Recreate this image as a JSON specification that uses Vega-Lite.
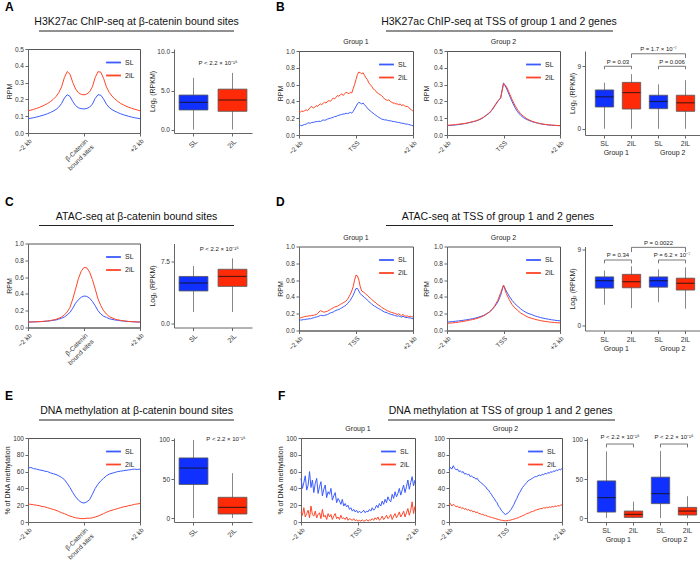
{
"$schema": "https://vega.github.io/schema/vega-lite/v6.json",
"padding": {"left": 2, "top": 1, "right": 0, "bottom": 0},
"config": {
 "font": "Liberation Sans",
 "view": {"stroke": null},
 "axis": {"grid": false, "labelFontSize": 6.5, "titleFontSize": 7, "titleFontWeight": "normal", "labelColor": "#333", "titleColor": "#222", "domainColor": "#666", "tickColor": "#666", "tickSize": 3, "labelPadding": 1.5, "titlePadding": 2, "labelFlush": false, "labelOverlap": false},
 "legend": {"orient": "top-right", "labelFontSize": 7, "symbolType": "stroke", "symbolStrokeWidth": 1.8, "symbolSize": 220, "rowPadding": 0, "padding": 0, "offset": 5, "labelColor": "#222", "labelOffset": 3},
 "title": {"fontSize": 7, "fontWeight": "normal", "color": "#222", "offset": 3},
 "text": {"color": "#222"}
},
"datasets": {
 "lA": [{"x":-2,"SL":0.085,"2iL":0.132},{"x":-1.9,"SL":0.088,"2iL":0.136},{"x":-1.8,"SL":0.091,"2iL":0.141},{"x":-1.7,"SL":0.095,"2iL":0.146},{"x":-1.6,"SL":0.099,"2iL":0.152},{"x":-1.5,"SL":0.104,"2iL":0.159},{"x":-1.4,"SL":0.109,"2iL":0.167},{"x":-1.3,"SL":0.115,"2iL":0.176},{"x":-1.2,"SL":0.122,"2iL":0.187},{"x":-1.1,"SL":0.13,"2iL":0.2},{"x":-1,"SL":0.14,"2iL":0.217},{"x":-0.9,"SL":0.154,"2iL":0.24},{"x":-0.8,"SL":0.176,"2iL":0.275},{"x":-0.7,"SL":0.208,"2iL":0.33},{"x":-0.6,"SL":0.228,"2iL":0.366},{"x":-0.5,"SL":0.218,"2iL":0.35},{"x":-0.4,"SL":0.187,"2iL":0.3},{"x":-0.3,"SL":0.163,"2iL":0.262},{"x":-0.2,"SL":0.15,"2iL":0.24},{"x":-0.1,"SL":0.145,"2iL":0.23},{"x":0,"SL":0.143,"2iL":0.227},{"x":0.1,"SL":0.146,"2iL":0.232},{"x":0.2,"SL":0.154,"2iL":0.245},{"x":0.3,"SL":0.172,"2iL":0.275},{"x":0.4,"SL":0.206,"2iL":0.33},{"x":0.5,"SL":0.228,"2iL":0.365},{"x":0.6,"SL":0.225,"2iL":0.362},{"x":0.7,"SL":0.202,"2iL":0.325},{"x":0.8,"SL":0.172,"2iL":0.275},{"x":0.9,"SL":0.152,"2iL":0.242},{"x":1,"SL":0.139,"2iL":0.22},{"x":1.1,"SL":0.13,"2iL":0.203},{"x":1.2,"SL":0.122,"2iL":0.189},{"x":1.3,"SL":0.115,"2iL":0.177},{"x":1.4,"SL":0.109,"2iL":0.168},{"x":1.5,"SL":0.104,"2iL":0.16},{"x":1.6,"SL":0.099,"2iL":0.153},{"x":1.7,"SL":0.095,"2iL":0.147},{"x":1.8,"SL":0.091,"2iL":0.142},{"x":1.9,"SL":0.088,"2iL":0.137},{"x":2,"SL":0.085,"2iL":0.132}],
 "lB1": [{"x":-2,"SL":0.11,"2iL":0.28},{"x":-1.95,"SL":0.115,"2iL":0.275},{"x":-1.9,"SL":0.11,"2iL":0.285},{"x":-1.85,"SL":0.12,"2iL":0.28},{"x":-1.8,"SL":0.125,"2iL":0.29},{"x":-1.75,"SL":0.13,"2iL":0.3},{"x":-1.7,"SL":0.14,"2iL":0.29},{"x":-1.65,"SL":0.145,"2iL":0.31},{"x":-1.6,"SL":0.14,"2iL":0.33},{"x":-1.55,"SL":0.15,"2iL":0.34},{"x":-1.5,"SL":0.15,"2iL":0.32},{"x":-1.45,"SL":0.155,"2iL":0.33},{"x":-1.4,"SL":0.16,"2iL":0.35},{"x":-1.35,"SL":0.16,"2iL":0.34},{"x":-1.3,"SL":0.165,"2iL":0.36},{"x":-1.25,"SL":0.16,"2iL":0.37},{"x":-1.2,"SL":0.17,"2iL":0.36},{"x":-1.15,"SL":0.18,"2iL":0.38},{"x":-1.1,"SL":0.175,"2iL":0.39},{"x":-1.05,"SL":0.18,"2iL":0.38},{"x":-1,"SL":0.19,"2iL":0.4},{"x":-0.95,"SL":0.195,"2iL":0.41},{"x":-0.9,"SL":0.2,"2iL":0.4},{"x":-0.85,"SL":0.205,"2iL":0.42},{"x":-0.8,"SL":0.21,"2iL":0.44},{"x":-0.75,"SL":0.22,"2iL":0.43},{"x":-0.7,"SL":0.22,"2iL":0.45},{"x":-0.65,"SL":0.23,"2iL":0.47},{"x":-0.6,"SL":0.235,"2iL":0.46},{"x":-0.55,"SL":0.24,"2iL":0.48},{"x":-0.5,"SL":0.245,"2iL":0.49},{"x":-0.45,"SL":0.25,"2iL":0.47},{"x":-0.4,"SL":0.25,"2iL":0.49},{"x":-0.35,"SL":0.26,"2iL":0.51},{"x":-0.3,"SL":0.255,"2iL":0.5},{"x":-0.25,"SL":0.26,"2iL":0.49},{"x":-0.2,"SL":0.27,"2iL":0.51},{"x":-0.15,"SL":0.26,"2iL":0.5},{"x":-0.1,"SL":0.28,"2iL":0.55},{"x":-0.05,"SL":0.31,"2iL":0.6},{"x":0,"SL":0.34,"2iL":0.66},{"x":0.05,"SL":0.37,"2iL":0.72},{"x":0.1,"SL":0.39,"2iL":0.75},{"x":0.15,"SL":0.38,"2iL":0.74},{"x":0.2,"SL":0.37,"2iL":0.73},{"x":0.25,"SL":0.38,"2iL":0.74},{"x":0.3,"SL":0.36,"2iL":0.71},{"x":0.35,"SL":0.34,"2iL":0.68},{"x":0.4,"SL":0.32,"2iL":0.66},{"x":0.45,"SL":0.3,"2iL":0.62},{"x":0.5,"SL":0.29,"2iL":0.6},{"x":0.55,"SL":0.27,"2iL":0.58},{"x":0.6,"SL":0.26,"2iL":0.55},{"x":0.65,"SL":0.245,"2iL":0.54},{"x":0.7,"SL":0.235,"2iL":0.52},{"x":0.75,"SL":0.22,"2iL":0.5},{"x":0.8,"SL":0.21,"2iL":0.49},{"x":0.85,"SL":0.2,"2iL":0.48},{"x":0.9,"SL":0.19,"2iL":0.47},{"x":0.95,"SL":0.185,"2iL":0.45},{"x":1,"SL":0.18,"2iL":0.43},{"x":1.05,"SL":0.18,"2iL":0.42},{"x":1.1,"SL":0.175,"2iL":0.41},{"x":1.15,"SL":0.17,"2iL":0.42},{"x":1.2,"SL":0.17,"2iL":0.4},{"x":1.25,"SL":0.165,"2iL":0.39},{"x":1.3,"SL":0.16,"2iL":0.38},{"x":1.35,"SL":0.16,"2iL":0.38},{"x":1.4,"SL":0.155,"2iL":0.37},{"x":1.45,"SL":0.15,"2iL":0.37},{"x":1.5,"SL":0.15,"2iL":0.36},{"x":1.55,"SL":0.145,"2iL":0.37},{"x":1.6,"SL":0.14,"2iL":0.35},{"x":1.65,"SL":0.14,"2iL":0.36},{"x":1.7,"SL":0.135,"2iL":0.35},{"x":1.75,"SL":0.13,"2iL":0.34},{"x":1.8,"SL":0.13,"2iL":0.34},{"x":1.85,"SL":0.125,"2iL":0.33},{"x":1.9,"SL":0.12,"2iL":0.31},{"x":1.95,"SL":0.115,"2iL":0.3},{"x":2,"SL":0.11,"2iL":0.28}],
 "lB2": [{"x":-2,"SL":0.055,"2iL":0.058},{"x":-1.9,"SL":0.057,"2iL":0.059},{"x":-1.8,"SL":0.058,"2iL":0.06},{"x":-1.7,"SL":0.06,"2iL":0.062},{"x":-1.6,"SL":0.062,"2iL":0.064},{"x":-1.5,"SL":0.064,"2iL":0.066},{"x":-1.4,"SL":0.067,"2iL":0.068},{"x":-1.3,"SL":0.07,"2iL":0.071},{"x":-1.2,"SL":0.074,"2iL":0.075},{"x":-1.1,"SL":0.078,"2iL":0.079},{"x":-1,"SL":0.082,"2iL":0.083},{"x":-0.9,"SL":0.088,"2iL":0.089},{"x":-0.8,"SL":0.095,"2iL":0.097},{"x":-0.7,"SL":0.105,"2iL":0.107},{"x":-0.6,"SL":0.118,"2iL":0.12},{"x":-0.5,"SL":0.13,"2iL":0.133},{"x":-0.4,"SL":0.15,"2iL":0.152},{"x":-0.3,"SL":0.175,"2iL":0.178},{"x":-0.2,"SL":0.2,"2iL":0.203},{"x":-0.1,"SL":0.222,"2iL":0.22},{"x":0,"SL":0.31,"2iL":0.305},{"x":0.1,"SL":0.28,"2iL":0.29},{"x":0.2,"SL":0.24,"2iL":0.252},{"x":0.3,"SL":0.2,"2iL":0.212},{"x":0.4,"SL":0.165,"2iL":0.178},{"x":0.5,"SL":0.138,"2iL":0.15},{"x":0.6,"SL":0.118,"2iL":0.128},{"x":0.7,"SL":0.104,"2iL":0.112},{"x":0.8,"SL":0.094,"2iL":0.1},{"x":0.9,"SL":0.087,"2iL":0.09},{"x":1,"SL":0.08,"2iL":0.083},{"x":1.1,"SL":0.075,"2iL":0.077},{"x":1.2,"SL":0.071,"2iL":0.072},{"x":1.3,"SL":0.067,"2iL":0.068},{"x":1.4,"SL":0.064,"2iL":0.065},{"x":1.5,"SL":0.062,"2iL":0.062},{"x":1.6,"SL":0.06,"2iL":0.06},{"x":1.7,"SL":0.058,"2iL":0.059},{"x":1.8,"SL":0.057,"2iL":0.058},{"x":1.9,"SL":0.056,"2iL":0.057},{"x":2,"SL":0.055,"2iL":0.056}],
 "lC": [{"x":-2,"SL":0.065,"2iL":0.065},{"x":-1.9,"SL":0.066,"2iL":0.066},{"x":-1.8,"SL":0.067,"2iL":0.067},{"x":-1.7,"SL":0.068,"2iL":0.068},{"x":-1.6,"SL":0.069,"2iL":0.07},{"x":-1.5,"SL":0.071,"2iL":0.072},{"x":-1.4,"SL":0.073,"2iL":0.075},{"x":-1.3,"SL":0.076,"2iL":0.078},{"x":-1.2,"SL":0.08,"2iL":0.083},{"x":-1.1,"SL":0.085,"2iL":0.09},{"x":-1,"SL":0.09,"2iL":0.098},{"x":-0.9,"SL":0.1,"2iL":0.11},{"x":-0.8,"SL":0.11,"2iL":0.125},{"x":-0.7,"SL":0.125,"2iL":0.15},{"x":-0.6,"SL":0.15,"2iL":0.185},{"x":-0.5,"SL":0.18,"2iL":0.24},{"x":-0.4,"SL":0.23,"2iL":0.34},{"x":-0.3,"SL":0.29,"2iL":0.46},{"x":-0.2,"SL":0.33,"2iL":0.58},{"x":-0.1,"SL":0.36,"2iL":0.67},{"x":0,"SL":0.375,"2iL":0.715},{"x":0.1,"SL":0.37,"2iL":0.71},{"x":0.2,"SL":0.35,"2iL":0.66},{"x":0.3,"SL":0.31,"2iL":0.57},{"x":0.4,"SL":0.26,"2iL":0.46},{"x":0.5,"SL":0.2,"2iL":0.34},{"x":0.6,"SL":0.16,"2iL":0.26},{"x":0.7,"SL":0.135,"2iL":0.2},{"x":0.8,"SL":0.12,"2iL":0.16},{"x":0.9,"SL":0.105,"2iL":0.13},{"x":1,"SL":0.097,"2iL":0.115},{"x":1.1,"SL":0.09,"2iL":0.1},{"x":1.2,"SL":0.085,"2iL":0.092},{"x":1.3,"SL":0.08,"2iL":0.085},{"x":1.4,"SL":0.077,"2iL":0.08},{"x":1.5,"SL":0.074,"2iL":0.076},{"x":1.6,"SL":0.071,"2iL":0.072},{"x":1.7,"SL":0.069,"2iL":0.07},{"x":1.8,"SL":0.067,"2iL":0.068},{"x":1.9,"SL":0.066,"2iL":0.066},{"x":2,"SL":0.065,"2iL":0.065}],
 "lD1": [{"x":-2,"SL":0.12,"2iL":0.14},{"x":-1.95,"SL":0.125,"2iL":0.15},{"x":-1.9,"SL":0.125,"2iL":0.155},{"x":-1.85,"SL":0.13,"2iL":0.16},{"x":-1.8,"SL":0.13,"2iL":0.165},{"x":-1.75,"SL":0.135,"2iL":0.17},{"x":-1.7,"SL":0.135,"2iL":0.17},{"x":-1.65,"SL":0.14,"2iL":0.175},{"x":-1.6,"SL":0.14,"2iL":0.175},{"x":-1.55,"SL":0.145,"2iL":0.18},{"x":-1.5,"SL":0.15,"2iL":0.18},{"x":-1.45,"SL":0.155,"2iL":0.185},{"x":-1.4,"SL":0.16,"2iL":0.19},{"x":-1.35,"SL":0.165,"2iL":0.2},{"x":-1.3,"SL":0.17,"2iL":0.22},{"x":-1.25,"SL":0.18,"2iL":0.235},{"x":-1.2,"SL":0.18,"2iL":0.23},{"x":-1.15,"SL":0.175,"2iL":0.22},{"x":-1.1,"SL":0.18,"2iL":0.22},{"x":-1.05,"SL":0.185,"2iL":0.225},{"x":-1,"SL":0.19,"2iL":0.23},{"x":-0.95,"SL":0.2,"2iL":0.24},{"x":-0.9,"SL":0.21,"2iL":0.25},{"x":-0.85,"SL":0.215,"2iL":0.26},{"x":-0.8,"SL":0.22,"2iL":0.27},{"x":-0.75,"SL":0.23,"2iL":0.28},{"x":-0.7,"SL":0.24,"2iL":0.285},{"x":-0.65,"SL":0.245,"2iL":0.29},{"x":-0.6,"SL":0.25,"2iL":0.3},{"x":-0.55,"SL":0.26,"2iL":0.31},{"x":-0.5,"SL":0.27,"2iL":0.32},{"x":-0.45,"SL":0.28,"2iL":0.33},{"x":-0.4,"SL":0.29,"2iL":0.34},{"x":-0.35,"SL":0.3,"2iL":0.35},{"x":-0.3,"SL":0.32,"2iL":0.37},{"x":-0.25,"SL":0.34,"2iL":0.4},{"x":-0.2,"SL":0.36,"2iL":0.43},{"x":-0.15,"SL":0.39,"2iL":0.47},{"x":-0.1,"SL":0.42,"2iL":0.52},{"x":-0.05,"SL":0.46,"2iL":0.6},{"x":0,"SL":0.5,"2iL":0.66},{"x":0.05,"SL":0.5,"2iL":0.65},{"x":0.1,"SL":0.47,"2iL":0.6},{"x":0.15,"SL":0.44,"2iL":0.52},{"x":0.2,"SL":0.42,"2iL":0.47},{"x":0.25,"SL":0.41,"2iL":0.46},{"x":0.3,"SL":0.39,"2iL":0.45},{"x":0.35,"SL":0.38,"2iL":0.43},{"x":0.4,"SL":0.36,"2iL":0.42},{"x":0.45,"SL":0.345,"2iL":0.4},{"x":0.5,"SL":0.33,"2iL":0.385},{"x":0.55,"SL":0.315,"2iL":0.37},{"x":0.6,"SL":0.3,"2iL":0.355},{"x":0.65,"SL":0.29,"2iL":0.34},{"x":0.7,"SL":0.28,"2iL":0.33},{"x":0.75,"SL":0.27,"2iL":0.31},{"x":0.8,"SL":0.26,"2iL":0.3},{"x":0.85,"SL":0.25,"2iL":0.29},{"x":0.9,"SL":0.24,"2iL":0.275},{"x":0.95,"SL":0.23,"2iL":0.265},{"x":1,"SL":0.22,"2iL":0.255},{"x":1.05,"SL":0.215,"2iL":0.245},{"x":1.1,"SL":0.21,"2iL":0.235},{"x":1.15,"SL":0.2,"2iL":0.23},{"x":1.2,"SL":0.195,"2iL":0.22},{"x":1.25,"SL":0.19,"2iL":0.215},{"x":1.3,"SL":0.185,"2iL":0.21},{"x":1.35,"SL":0.18,"2iL":0.205},{"x":1.4,"SL":0.175,"2iL":0.2},{"x":1.45,"SL":0.17,"2iL":0.19},{"x":1.5,"SL":0.175,"2iL":0.2},{"x":1.55,"SL":0.165,"2iL":0.185},{"x":1.6,"SL":0.16,"2iL":0.18},{"x":1.65,"SL":0.17,"2iL":0.19},{"x":1.7,"SL":0.16,"2iL":0.175},{"x":1.75,"SL":0.155,"2iL":0.17},{"x":1.8,"SL":0.155,"2iL":0.175},{"x":1.85,"SL":0.15,"2iL":0.165},{"x":1.9,"SL":0.15,"2iL":0.17},{"x":1.95,"SL":0.145,"2iL":0.165},{"x":2,"SL":0.14,"2iL":0.16}],
 "lD2": [{"x":-2,"SL":0.1,"2iL":0.085},{"x":-1.9,"SL":0.103,"2iL":0.088},{"x":-1.8,"SL":0.106,"2iL":0.091},{"x":-1.7,"SL":0.11,"2iL":0.095},{"x":-1.6,"SL":0.114,"2iL":0.099},{"x":-1.5,"SL":0.118,"2iL":0.104},{"x":-1.4,"SL":0.123,"2iL":0.11},{"x":-1.3,"SL":0.128,"2iL":0.116},{"x":-1.2,"SL":0.134,"2iL":0.123},{"x":-1.1,"SL":0.14,"2iL":0.13},{"x":-1,"SL":0.148,"2iL":0.138},{"x":-0.9,"SL":0.157,"2iL":0.148},{"x":-0.8,"SL":0.168,"2iL":0.16},{"x":-0.7,"SL":0.18,"2iL":0.175},{"x":-0.6,"SL":0.2,"2iL":0.195},{"x":-0.5,"SL":0.22,"2iL":0.22},{"x":-0.4,"SL":0.25,"2iL":0.25},{"x":-0.3,"SL":0.29,"2iL":0.3},{"x":-0.2,"SL":0.34,"2iL":0.36},{"x":-0.1,"SL":0.42,"2iL":0.45},{"x":0,"SL":0.54,"2iL":0.54},{"x":0.1,"SL":0.47,"2iL":0.44},{"x":0.2,"SL":0.41,"2iL":0.37},{"x":0.3,"SL":0.36,"2iL":0.31},{"x":0.4,"SL":0.32,"2iL":0.27},{"x":0.5,"SL":0.29,"2iL":0.24},{"x":0.6,"SL":0.26,"2iL":0.21},{"x":0.7,"SL":0.235,"2iL":0.19},{"x":0.8,"SL":0.215,"2iL":0.17},{"x":0.9,"SL":0.2,"2iL":0.155},{"x":1,"SL":0.19,"2iL":0.145},{"x":1.1,"SL":0.175,"2iL":0.135},{"x":1.2,"SL":0.165,"2iL":0.126},{"x":1.3,"SL":0.155,"2iL":0.118},{"x":1.4,"SL":0.147,"2iL":0.112},{"x":1.5,"SL":0.14,"2iL":0.107},{"x":1.6,"SL":0.134,"2iL":0.102},{"x":1.7,"SL":0.128,"2iL":0.098},{"x":1.8,"SL":0.123,"2iL":0.095},{"x":1.9,"SL":0.118,"2iL":0.092},{"x":2,"SL":0.115,"2iL":0.09}],
 "lE": [{"x":-2,"SL":64,"2iL":21.5},{"x":-1.9,"SL":65,"2iL":21},{"x":-1.8,"SL":63.5,"2iL":20.5},{"x":-1.7,"SL":63,"2iL":20},{"x":-1.6,"SL":62,"2iL":19.5},{"x":-1.5,"SL":61.5,"2iL":18.5},{"x":-1.4,"SL":60.5,"2iL":18},{"x":-1.3,"SL":60,"2iL":17},{"x":-1.2,"SL":58.5,"2iL":16},{"x":-1.1,"SL":57.5,"2iL":15},{"x":-1,"SL":56.5,"2iL":14},{"x":-0.9,"SL":55,"2iL":12.5},{"x":-0.8,"SL":53,"2iL":11},{"x":-0.7,"SL":50.5,"2iL":10},{"x":-0.6,"SL":46,"2iL":8.5},{"x":-0.5,"SL":41,"2iL":7},{"x":-0.4,"SL":35,"2iL":6},{"x":-0.3,"SL":30,"2iL":5},{"x":-0.2,"SL":26,"2iL":4.5},{"x":-0.1,"SL":23.5,"2iL":4},{"x":0,"SL":22.5,"2iL":4},{"x":0.1,"SL":24,"2iL":4.5},{"x":0.2,"SL":26.5,"2iL":4.5},{"x":0.3,"SL":33,"2iL":5},{"x":0.4,"SL":40,"2iL":6},{"x":0.5,"SL":45,"2iL":7},{"x":0.6,"SL":49,"2iL":8.5},{"x":0.7,"SL":52,"2iL":10},{"x":0.8,"SL":55,"2iL":11.5},{"x":0.9,"SL":57,"2iL":13},{"x":1,"SL":58,"2iL":14},{"x":1.1,"SL":59,"2iL":15},{"x":1.2,"SL":60,"2iL":16},{"x":1.3,"SL":60.5,"2iL":17},{"x":1.4,"SL":61,"2iL":18},{"x":1.5,"SL":61.5,"2iL":18.5},{"x":1.6,"SL":62,"2iL":19.5},{"x":1.7,"SL":62.5,"2iL":20},{"x":1.8,"SL":63,"2iL":21},{"x":1.9,"SL":62.5,"2iL":21.5},{"x":2,"SL":63,"2iL":22}],
 "lF1": [{"x":-2,"SL":52,"2iL":12},{"x":-1.95,"SL":40,"2iL":8},{"x":-1.9,"SL":47,"2iL":17},{"x":-1.85,"SL":55,"2iL":6},{"x":-1.8,"SL":38,"2iL":10},{"x":-1.75,"SL":44,"2iL":14},{"x":-1.7,"SL":60,"2iL":5},{"x":-1.65,"SL":41,"2iL":19},{"x":-1.6,"SL":50,"2iL":9},{"x":-1.55,"SL":35,"2iL":7},{"x":-1.5,"SL":46,"2iL":13},{"x":-1.45,"SL":52,"2iL":5},{"x":-1.4,"SL":34,"2iL":9},{"x":-1.35,"SL":42,"2iL":11},{"x":-1.3,"SL":48,"2iL":4},{"x":-1.25,"SL":31,"2iL":15},{"x":-1.2,"SL":39,"2iL":6},{"x":-1.15,"SL":44,"2iL":8},{"x":-1.1,"SL":29,"2iL":3},{"x":-1.05,"SL":36,"2iL":10},{"x":-1,"SL":33,"2iL":6},{"x":-0.95,"SL":40,"2iL":9},{"x":-0.9,"SL":26,"2iL":3},{"x":-0.85,"SL":31,"2iL":7},{"x":-0.8,"SL":35,"2iL":10},{"x":-0.75,"SL":23,"2iL":4},{"x":-0.7,"SL":28,"2iL":6},{"x":-0.65,"SL":25,"2iL":3},{"x":-0.6,"SL":21,"2iL":8},{"x":-0.55,"SL":27,"2iL":4},{"x":-0.5,"SL":19,"2iL":5},{"x":-0.45,"SL":22,"2iL":3},{"x":-0.4,"SL":18,"2iL":6},{"x":-0.35,"SL":20,"2iL":2},{"x":-0.3,"SL":15,"2iL":4},{"x":-0.25,"SL":17,"2iL":3},{"x":-0.2,"SL":13,"2iL":2},{"x":-0.15,"SL":15,"2iL":4},{"x":-0.1,"SL":12,"2iL":1.5},{"x":-0.05,"SL":14,"2iL":2.5},{"x":0,"SL":11,"2iL":1},{"x":0.05,"SL":13,"2iL":2},{"x":0.1,"SL":11,"2iL":1},{"x":0.15,"SL":12,"2iL":2.5},{"x":0.2,"SL":14,"2iL":1},{"x":0.25,"SL":11,"2iL":1.5},{"x":0.3,"SL":13,"2iL":3},{"x":0.35,"SL":12,"2iL":1},{"x":0.4,"SL":15,"2iL":2.5},{"x":0.45,"SL":13,"2iL":2},{"x":0.5,"SL":17,"2iL":4},{"x":0.55,"SL":14,"2iL":2},{"x":0.6,"SL":16,"2iL":5},{"x":0.65,"SL":20,"2iL":3},{"x":0.7,"SL":17,"2iL":6},{"x":0.75,"SL":22,"2iL":2},{"x":0.8,"SL":19,"2iL":4},{"x":0.85,"SL":25,"2iL":7},{"x":0.9,"SL":21,"2iL":3},{"x":0.95,"SL":27,"2iL":5},{"x":1,"SL":23,"2iL":8},{"x":1.05,"SL":30,"2iL":4},{"x":1.1,"SL":26,"2iL":6},{"x":1.15,"SL":24,"2iL":9},{"x":1.2,"SL":33,"2iL":3},{"x":1.25,"SL":28,"2iL":7},{"x":1.3,"SL":36,"2iL":10},{"x":1.35,"SL":30,"2iL":5},{"x":1.4,"SL":34,"2iL":8},{"x":1.45,"SL":40,"2iL":12},{"x":1.5,"SL":32,"2iL":6},{"x":1.55,"SL":38,"2iL":9},{"x":1.6,"SL":44,"2iL":13},{"x":1.65,"SL":35,"2iL":6},{"x":1.7,"SL":42,"2iL":11},{"x":1.75,"SL":50,"2iL":16},{"x":1.8,"SL":39,"2iL":8},{"x":1.85,"SL":47,"2iL":14},{"x":1.9,"SL":54,"2iL":24},{"x":1.95,"SL":43,"2iL":10},{"x":2,"SL":50,"2iL":19}],
 "lF2": [{"x":-2,"SL":62,"2iL":20},{"x":-1.95,"SL":65,"2iL":22},{"x":-1.9,"SL":63,"2iL":19},{"x":-1.85,"SL":67,"2iL":21},{"x":-1.8,"SL":64,"2iL":20},{"x":-1.75,"SL":62,"2iL":18},{"x":-1.7,"SL":63,"2iL":19},{"x":-1.65,"SL":60,"2iL":17},{"x":-1.6,"SL":61,"2iL":18},{"x":-1.55,"SL":59,"2iL":16},{"x":-1.5,"SL":60,"2iL":17},{"x":-1.45,"SL":57,"2iL":15},{"x":-1.4,"SL":58,"2iL":16},{"x":-1.35,"SL":56,"2iL":14},{"x":-1.3,"SL":57,"2iL":15},{"x":-1.25,"SL":54,"2iL":13},{"x":-1.2,"SL":55,"2iL":14},{"x":-1.15,"SL":53,"2iL":12},{"x":-1.1,"SL":53,"2iL":13},{"x":-1.05,"SL":51,"2iL":11},{"x":-1,"SL":52,"2iL":12},{"x":-0.95,"SL":49,"2iL":10},{"x":-0.9,"SL":48,"2iL":10},{"x":-0.85,"SL":46,"2iL":9},{"x":-0.8,"SL":45,"2iL":9},{"x":-0.75,"SL":43,"2iL":8},{"x":-0.7,"SL":42,"2iL":8},{"x":-0.65,"SL":39,"2iL":7},{"x":-0.6,"SL":38,"2iL":6.5},{"x":-0.55,"SL":35,"2iL":6},{"x":-0.5,"SL":33,"2iL":5.5},{"x":-0.45,"SL":30,"2iL":5},{"x":-0.4,"SL":28,"2iL":4.5},{"x":-0.35,"SL":25,"2iL":4},{"x":-0.3,"SL":23,"2iL":3.5},{"x":-0.25,"SL":19,"2iL":3},{"x":-0.2,"SL":17,"2iL":2.5},{"x":-0.15,"SL":14,"2iL":2},{"x":-0.1,"SL":12,"2iL":2},{"x":-0.05,"SL":10,"2iL":1.5},{"x":0,"SL":9,"2iL":1.5},{"x":0.05,"SL":10,"2iL":1.5},{"x":0.1,"SL":11,"2iL":2},{"x":0.15,"SL":13,"2iL":2},{"x":0.2,"SL":15,"2iL":2.5},{"x":0.25,"SL":18,"2iL":3},{"x":0.3,"SL":21,"2iL":3.5},{"x":0.35,"SL":25,"2iL":4},{"x":0.4,"SL":28,"2iL":4.5},{"x":0.45,"SL":32,"2iL":5},{"x":0.5,"SL":35,"2iL":6},{"x":0.55,"SL":38,"2iL":6.5},{"x":0.6,"SL":41,"2iL":7.5},{"x":0.65,"SL":43,"2iL":8},{"x":0.7,"SL":45,"2iL":9},{"x":0.75,"SL":47,"2iL":10},{"x":0.8,"SL":49,"2iL":10.5},{"x":0.85,"SL":50,"2iL":11},{"x":0.9,"SL":51,"2iL":12},{"x":0.95,"SL":52,"2iL":12.5},{"x":1,"SL":53,"2iL":13},{"x":1.05,"SL":54,"2iL":14},{"x":1.1,"SL":54,"2iL":14.5},{"x":1.15,"SL":55,"2iL":15},{"x":1.2,"SL":56,"2iL":15.5},{"x":1.25,"SL":55,"2iL":16},{"x":1.3,"SL":57,"2iL":16},{"x":1.35,"SL":56,"2iL":17},{"x":1.4,"SL":58,"2iL":16.5},{"x":1.45,"SL":57,"2iL":17.5},{"x":1.5,"SL":59,"2iL":17},{"x":1.55,"SL":58,"2iL":18},{"x":1.6,"SL":60,"2iL":17.5},{"x":1.65,"SL":59,"2iL":18.5},{"x":1.7,"SL":61,"2iL":18},{"x":1.75,"SL":60,"2iL":19},{"x":1.8,"SL":62,"2iL":18.5},{"x":1.85,"SL":61,"2iL":19.5},{"x":1.9,"SL":63,"2iL":19},{"x":1.95,"SL":62,"2iL":20},{"x":2,"SL":64,"2iL":20.5}],
 "bA": [{"cat":"SL","cond":"SL","min":0,"q1":2.51,"med":3.49,"q3":4.43,"max":6.64},{"cat":"2iL","cond":"2iL","min":0,"q1":2.34,"med":3.79,"q3":5.19,"max":7.28}],
 "bB": [{"cat":"SL1","cond":"SL","min":0,"q1":3.13,"med":4.6,"q3":5.59,"max":6.63},{"cat":"2iL1","cond":"2iL","min":0,"q1":2.84,"med":5.21,"q3":6.68,"max":7.87},{"cat":"SL2","cond":"SL","min":0,"q1":2.89,"med":3.93,"q3":4.83,"max":6.4},{"cat":"2iL2","cond":"2iL","min":0,"q1":2.51,"med":3.74,"q3":4.83,"max":7.0}],
 "bC": [{"cat":"SL","cond":"SL","min":1.38,"q1":3.91,"med":4.86,"q3":5.65,"max":6.9},{"cat":"2iL","cond":"2iL","min":1.38,"q1":4.46,"med":5.65,"q3":6.51,"max":7.82}],
 "bD": [{"cat":"SL1","cond":"SL","min":2.4,"q1":4.37,"med":5.25,"q3":5.7,"max":6.46},{"cat":"2iL1","cond":"2iL","min":2.0,"q1":4.41,"med":5.13,"q3":6.0,"max":6.96},{"cat":"SL2","cond":"SL","min":2.7,"q1":4.48,"med":5.25,"q3":5.7,"max":6.58},{"cat":"2iL2","cond":"2iL","min":1.93,"q1":4.14,"med":4.94,"q3":5.55,"max":6.84}],
 "bE": [{"cat":"SL","cond":"SL","min":0,"q1":43,"med":64,"q3":77,"max":100},{"cat":"2iL","cond":"2iL","min":0,"q1":5.2,"med":13.7,"q3":26.6,"max":57.5}],
 "bF": [{"cat":"SL1","cond":"SL","min":0,"q1":7.7,"med":26.2,"q3":47.6,"max":85.4},{"cat":"2iL1","cond":"2iL","min":0,"q1":0.9,"med":4.7,"q3":9,"max":21},{"cat":"SL2","cond":"SL","min":0,"q1":18.5,"med":31.3,"q3":52.4,"max":86},{"cat":"2iL2","cond":"2iL","min":0,"q1":3.9,"med":9,"q3":13.7,"max":28}],
 "pB": [{"k":"pair","label":"P = 0.03","at":"SL1","ty":9.62},{"k":"pair","label":"P = 0.006","at":"SL2","ty":9.62},{"k":"mid","label":"P = 1.7 × 10⁻⁷","at":"SL2","ty":11.5}],
 "brB": [{"a":"SL1","b":"2iL1","y":9.0,"lo":8.58},{"a":"SL2","b":"2iL2","y":9.0,"lo":8.58},{"a":"2iL1","b":"2iL2","y":10.8,"lo":10.2}],
 "pD": [{"k":"pair","label":"P = 0.34","at":"SL1","ty":8.33},{"k":"pair","label":"P = 6.2 × 10⁻⁷","at":"SL2","ty":8.33},{"k":"mid","label":"P = 0.0022","at":"SL2","ty":9.77}],
 "brD": [{"a":"SL1","b":"2iL1","y":7.7,"lo":7.3},{"a":"SL2","b":"2iL2","y":7.7,"lo":7.3},{"a":"2iL1","b":"2iL2","y":9.2,"lo":8.64}],
 "pF": [{"k":"pair","label":"P < 2.2 × 10⁻¹⁶","at":"SL1","ty":103.4},{"k":"pair","label":"P < 2.2 × 10⁻¹⁶","at":"SL2","ty":103.4}],
 "brF": [{"a":"SL1","b":"2iL1","y":94.8,"lo":90.5},{"a":"SL2","b":"2iL2","y":94.8,"lo":90.5}]
},
"spacing": 22.5,
"resolve": {"scale": {"color": "independent", "fill": "independent"}, "legend": {"color": "independent"}},
"vconcat": [
 {"hconcat": [
  {"vconcat": [
   {"width": 222, "height": 30, "data": {"values": [{"letter":"A","lx":-0.104,"ly":0.82,"title":"H3K27ac ChIP-seq at β-catenin bound sites","tx":0.489,"ty":0.333,"r1":0.0495,"r2":0.928,"ry":0.033}]},
    "layer": [
     {"mark": {"type":"text","fontSize":12,"fontWeight":"bold","align":"left","baseline":"middle","color":"#000"}, "encoding": {"x":{"field":"lx","type":"quantitative","scale":{"domain":[0,1]},"axis":null},"y":{"field":"ly","type":"quantitative","scale":{"domain":[0,1]},"axis":null},"text":{"field":"letter"}}},
     {"mark": {"type":"text","fontSize":10.5,"align":"center","baseline":"middle","color":"#111"}, "encoding": {"x":{"field":"tx","type":"quantitative"},"y":{"field":"ty","type":"quantitative"},"text":{"field":"title"}}},
     {"mark": {"type":"rule","color":"#222","strokeWidth":1}, "encoding": {"x":{"field":"r1","type":"quantitative"},"x2":{"field":"r2"},"y":{"field":"ry","type":"quantitative"}}}
    ]},
   {"hconcat": [
    {"width":112,"height":84,"title":" ","data":{"name":"lA"},"transform":[{"fold":["SL","2iL"],"as":["cond","val"]}],"mark":{"type":"line","strokeWidth":1},
     "encoding":{"x":{"field":"x","type":"quantitative","scale":{"domain":[-2,2],"nice":false},"axis":{"values":[-2,0,2],"labelExpr":"datum.value < 0 ? '−2 kb' : datum.value > 0 ? '+2 kb' : ['β-Catenin','bound sites']","labelAngle":-45,"title":null}},
      "y":{"field":"val","type":"quantitative","scale":{"domain":[0,0.5],"nice":false},"axis":{"values":[0,0.1,0.2,0.3,0.4,0.5],"format":".1f","title":"RPM","minExtent":14,"maxExtent":14}},
      "color":{"field":"cond","type":"nominal","scale":{"domain":["SL","2iL"],"range":["#3b5bff","#ff4526"]},"legend":{"title":null}}},
     "view":{"stroke":"#555"}},
    {"width":78,"height":84,"title":" ","layer":[
     {"data":{"name":"bA"},"mark":{"type":"rule","color":"#888","strokeWidth":1},"encoding":{"x":{"field":"cat","type":"nominal","scale":{"domain":["SL","2iL"],"paddingInner":0,"paddingOuter":0},"axis":{"labelAngle":-45,"title":null,"labelFontSize":7}},"y":{"field":"min","type":"quantitative","scale":{"domain":[-0.45,10.35],"nice":false,"zero":false},"axis":{"values":[0,2.5,5,7.5,10],"format":".1f","title":"Log₂ (RPKM)","minExtent":17,"maxExtent":17}},"y2":{"field":"max"}}},
     {"data":{"name":"bA"},"mark":{"type":"bar","width":{"band":0.74},"stroke":"#555","strokeWidth":0.8},"encoding":{"x":{"field":"cat","type":"nominal"},"y":{"field":"q1","type":"quantitative"},"y2":{"field":"q3"},"fill":{"field":"cond","type":"nominal","scale":{"domain":["SL","2iL"],"range":["#1030ff","#ff2a08"]},"legend":null}}},
     {"data":{"name":"bA"},"mark":{"type":"tick","size":28,"thickness":1.2,"color":"#111","orient":"horizontal"},"encoding":{"x":{"field":"cat","type":"nominal"},"y":{"field":"med","type":"quantitative"}}},
     {"data":{"values":[{"label":"P < 2.2 × 10⁻¹⁶","at":"2iL","ty":8.5}]},"mark":{"type":"text","fontSize":6},"encoding":{"x":{"field":"at","type":"nominal","bandPosition":0.13},"y":{"field":"ty","type":"quantitative"},"text":{"field":"label"}}}
    ]}
   ], "spacing": 2, "resolve": {"scale": {"color": "independent", "fill": "independent"}, "legend": {"color": "independent"}}}
  ], "spacing": 3, "resolve": {"scale": {"color": "independent", "fill": "independent"}, "legend": {"color": "independent"}}},
  {"vconcat": [
   {"width": 400, "height": 30, "data": {"values": [{"letter":"B","lx":-0.0575,"ly":0.82,"title":"H3K27ac ChIP-seq at TSS of group 1 and 2 genes","tx":0.5,"ty":0.333,"r1":0.2175,"r2":0.785,"ry":0.033}]},
    "layer": [
     {"mark": {"type":"text","fontSize":12,"fontWeight":"bold","align":"left","baseline":"middle","color":"#000"}, "encoding": {"x":{"field":"lx","type":"quantitative","scale":{"domain":[0,1]},"axis":null},"y":{"field":"ly","type":"quantitative","scale":{"domain":[0,1]},"axis":null},"text":{"field":"letter"}}},
     {"mark": {"type":"text","fontSize":10.5,"align":"center","baseline":"middle","color":"#111"}, "encoding": {"x":{"field":"tx","type":"quantitative"},"y":{"field":"ty","type":"quantitative"},"text":{"field":"title"}}},
     {"mark": {"type":"rule","color":"#222","strokeWidth":1}, "encoding": {"x":{"field":"r1","type":"quantitative"},"x2":{"field":"r2"},"y":{"field":"ry","type":"quantitative"}}}
    ]},
   {"hconcat": [
    {"width":114,"height":84,"title":"Group 1","data":{"name":"lB1"},"transform":[{"fold":["SL","2iL"],"as":["cond","val"]}],"mark":{"type":"line","strokeWidth":1},
     "encoding":{"x":{"field":"x","type":"quantitative","scale":{"domain":[-2,2],"nice":false},"axis":{"values":[-2,0,2],"labelExpr":"datum.value < 0 ? '−2 kb' : datum.value > 0 ? '+2 kb' : 'TSS'","labelAngle":-45,"title":null}},
      "y":{"field":"val","type":"quantitative","scale":{"domain":[0,1],"nice":false},"axis":{"values":[0,0.2,0.4,0.6,0.8,1],"format":".1f","title":"RPM","minExtent":14,"maxExtent":14}},
      "color":{"field":"cond","type":"nominal","scale":{"domain":["SL","2iL"],"range":["#3b5bff","#ff4526"]},"legend":{"title":null}}},
     "view":{"stroke":"#555"}},
    {"width":113,"height":84,"title":"Group 2","data":{"name":"lB2"},"transform":[{"fold":["SL","2iL"],"as":["cond","val"]}],"mark":{"type":"line","strokeWidth":1},
     "encoding":{"x":{"field":"x","type":"quantitative","scale":{"domain":[-2,2],"nice":false},"axis":{"values":[-2,0,2],"labelExpr":"datum.value < 0 ? '−2 kb' : datum.value > 0 ? '+2 kb' : 'TSS'","labelAngle":-45,"title":null}},
      "y":{"field":"val","type":"quantitative","scale":{"domain":[0,0.5],"nice":false},"axis":{"values":[0,0.1,0.2,0.3,0.4,0.5],"format":".1f","title":"RPM","minExtent":16,"maxExtent":16}},
      "color":{"field":"cond","type":"nominal","scale":{"domain":["SL","2iL"],"range":["#3b5bff","#ff4526"]},"legend":{"title":null}}},
     "view":{"stroke":"#555"}},
    {"width":118,"height":84,"title":" ","layer":[
     {"data":{"name":"bB"},"mark":{"type":"rule","color":"#888","strokeWidth":1},"encoding":{"x":{"field":"cat","type":"nominal","scale":{"domain":["SL1","2iL1","SL2","2iL2"],"paddingInner":0,"paddingOuter":0.185,"align":0.6},"axis":{"labelAngle":0,"labelExpr":"datum.value == 'SL1' || datum.value == 'SL2' ? 'SL' : '2iL'","title":"Group 1\u00a0\u00a0\u00a0\u00a0\u00a0\u00a0\u00a0\u00a0\u00a0\u00a0\u00a0\u00a0\u00a0\u00a0\u00a0\u00a0Group 2","labelFontSize":7,"titlePadding":2}},"y":{"field":"min","type":"quantitative","scale":{"domain":[-0.9,11.2],"nice":false,"zero":false},"axis":{"values":[0,3,6,9],"title":"Log₂ (RPKM)","minExtent":8,"maxExtent":8}},"y2":{"field":"max"}}},
     {"data":{"name":"bB"},"mark":{"type":"bar","width":{"band":0.68},"stroke":"#555","strokeWidth":0.8},"encoding":{"x":{"field":"cat","type":"nominal"},"y":{"field":"q1","type":"quantitative"},"y2":{"field":"q3"},"fill":{"field":"cond","type":"nominal","scale":{"domain":["SL","2iL"],"range":["#1030ff","#ff2a08"]},"legend":null}}},
     {"data":{"name":"bB"},"mark":{"type":"tick","size":18,"thickness":1.2,"color":"#111","orient":"horizontal"},"encoding":{"x":{"field":"cat","type":"nominal"},"y":{"field":"med","type":"quantitative"}}},
     {"data":{"name":"brB"},"mark":{"type":"rule","color":"#555","strokeWidth":0.8},"encoding":{"x":{"field":"a","type":"nominal"},"x2":{"field":"b"},"y":{"field":"y","type":"quantitative"}}},
     {"data":{"name":"brB"},"transform":[{"fold":["a","b"],"as":["end","c"]}],"mark":{"type":"rule","color":"#555","strokeWidth":0.8},"encoding":{"x":{"field":"c","type":"nominal"},"y":{"field":"y","type":"quantitative"},"y2":{"field":"lo"}}},
     {"data":{"name":"pB"},"transform":[{"filter":"datum.k == 'pair'"}],"mark":{"type":"text","fontSize":6},"encoding":{"x":{"field":"at","type":"nominal","bandPosition":1},"y":{"field":"ty","type":"quantitative"},"text":{"field":"label"}}},
     {"data":{"name":"pB"},"transform":[{"filter":"datum.k == 'mid'"}],"mark":{"type":"text","fontSize":6},"encoding":{"x":{"field":"at","type":"nominal","bandPosition":0.5},"y":{"field":"ty","type":"quantitative"},"text":{"field":"label"}}}
    ]}
   ], "spacing": 2, "resolve": {"scale": {"color": "independent", "fill": "independent"}, "legend": {"color": "independent"}}}
  ], "spacing": 3, "resolve": {"scale": {"color": "independent", "fill": "independent"}, "legend": {"color": "independent"}}}
 ], "spacing": 23, "resolve": {"scale": {"color": "independent", "fill": "independent"}, "legend": {"color": "independent"}}},

 {"hconcat": [
  {"vconcat": [
   {"width": 222, "height": 30, "data": {"values": [{"letter":"C","lx":-0.104,"ly":0.82,"title":"ATAC-seq at β-catenin bound sites","tx":0.489,"ty":0.333,"r1":0.0495,"r2":0.928,"ry":0.033}]},
    "layer": [
     {"mark": {"type":"text","fontSize":12,"fontWeight":"bold","align":"left","baseline":"middle","color":"#000"}, "encoding": {"x":{"field":"lx","type":"quantitative","scale":{"domain":[0,1]},"axis":null},"y":{"field":"ly","type":"quantitative","scale":{"domain":[0,1]},"axis":null},"text":{"field":"letter"}}},
     {"mark": {"type":"text","fontSize":10.5,"align":"center","baseline":"middle","color":"#111"}, "encoding": {"x":{"field":"tx","type":"quantitative"},"y":{"field":"ty","type":"quantitative"},"text":{"field":"title"}}},
     {"mark": {"type":"rule","color":"#222","strokeWidth":1}, "encoding": {"x":{"field":"r1","type":"quantitative"},"x2":{"field":"r2"},"y":{"field":"ry","type":"quantitative"}}}
    ]},
   {"hconcat": [
    {"width":112,"height":84,"title":" ","data":{"name":"lC"},"transform":[{"fold":["SL","2iL"],"as":["cond","val"]}],"mark":{"type":"line","strokeWidth":1},
     "encoding":{"x":{"field":"x","type":"quantitative","scale":{"domain":[-2,2],"nice":false},"axis":{"values":[-2,0,2],"labelExpr":"datum.value < 0 ? '−2 kb' : datum.value > 0 ? '+2 kb' : ['β-Catenin','bound sites']","labelAngle":-45,"title":null}},
      "y":{"field":"val","type":"quantitative","scale":{"domain":[0,1],"nice":false},"axis":{"values":[0,0.2,0.4,0.6,0.8,1],"format":".1f","title":"RPM","minExtent":14,"maxExtent":14}},
      "color":{"field":"cond","type":"nominal","scale":{"domain":["SL","2iL"],"range":["#3b5bff","#ff4526"]},"legend":{"title":null}}},
     "view":{"stroke":"#555"}},
    {"width":78,"height":84,"title":" ","layer":[
     {"data":{"name":"bC"},"mark":{"type":"rule","color":"#888","strokeWidth":1},"encoding":{"x":{"field":"cat","type":"nominal","scale":{"domain":["SL","2iL"],"paddingInner":0,"paddingOuter":0},"axis":{"labelAngle":-45,"title":null,"labelFontSize":7}},"y":{"field":"min","type":"quantitative","scale":{"domain":[-0.47,9.6],"nice":false,"zero":false},"axis":{"values":[0,2.5,5,7.5],"format":".1f","title":"Log₂ (RPKM)","minExtent":17,"maxExtent":17}},"y2":{"field":"max"}}},
     {"data":{"name":"bC"},"mark":{"type":"bar","width":{"band":0.74},"stroke":"#555","strokeWidth":0.8},"encoding":{"x":{"field":"cat","type":"nominal"},"y":{"field":"q1","type":"quantitative"},"y2":{"field":"q3"},"fill":{"field":"cond","type":"nominal","scale":{"domain":["SL","2iL"],"range":["#1030ff","#ff2a08"]},"legend":null}}},
     {"data":{"name":"bC"},"mark":{"type":"tick","size":28,"thickness":1.2,"color":"#111","orient":"horizontal"},"encoding":{"x":{"field":"cat","type":"nominal"},"y":{"field":"med","type":"quantitative"}}},
     {"data":{"values":[{"label":"P < 2.2 × 10⁻¹⁶","at":"2iL","ty":8.9}]},"mark":{"type":"text","fontSize":6},"encoding":{"x":{"field":"at","type":"nominal","bandPosition":0.16},"y":{"field":"ty","type":"quantitative"},"text":{"field":"label"}}}
    ]}
   ], "spacing": 2, "resolve": {"scale": {"color": "independent", "fill": "independent"}, "legend": {"color": "independent"}}}
  ], "spacing": 3, "resolve": {"scale": {"color": "independent", "fill": "independent"}, "legend": {"color": "independent"}}},
  {"vconcat": [
   {"width": 400, "height": 30, "data": {"values": [{"letter":"D","lx":-0.0575,"ly":0.82,"title":"ATAC-seq at TSS of group 1 and 2 genes","tx":0.4975,"ty":0.333,"r1":0.2175,"r2":0.785,"ry":0.033}]},
    "layer": [
     {"mark": {"type":"text","fontSize":12,"fontWeight":"bold","align":"left","baseline":"middle","color":"#000"}, "encoding": {"x":{"field":"lx","type":"quantitative","scale":{"domain":[0,1]},"axis":null},"y":{"field":"ly","type":"quantitative","scale":{"domain":[0,1]},"axis":null},"text":{"field":"letter"}}},
     {"mark": {"type":"text","fontSize":10.5,"align":"center","baseline":"middle","color":"#111"}, "encoding": {"x":{"field":"tx","type":"quantitative"},"y":{"field":"ty","type":"quantitative"},"text":{"field":"title"}}},
     {"mark": {"type":"rule","color":"#222","strokeWidth":1}, "encoding": {"x":{"field":"r1","type":"quantitative"},"x2":{"field":"r2"},"y":{"field":"ry","type":"quantitative"}}}
    ]},
   {"hconcat": [
    {"width":114,"height":84,"title":"Group 1","data":{"name":"lD1"},"transform":[{"fold":["SL","2iL"],"as":["cond","val"]}],"mark":{"type":"line","strokeWidth":1},
     "encoding":{"x":{"field":"x","type":"quantitative","scale":{"domain":[-2,2],"nice":false},"axis":{"values":[-2,0,2],"labelExpr":"datum.value < 0 ? '−2 kb' : datum.value > 0 ? '+2 kb' : 'TSS'","labelAngle":-45,"title":null}},
      "y":{"field":"val","type":"quantitative","scale":{"domain":[0,1],"nice":false},"axis":{"values":[0,0.2,0.4,0.6,0.8,1],"format":".1f","title":"RPM","minExtent":14,"maxExtent":14}},
      "color":{"field":"cond","type":"nominal","scale":{"domain":["SL","2iL"],"range":["#3b5bff","#ff4526"]},"legend":{"title":null}}},
     "view":{"stroke":"#555"}},
    {"width":113,"height":84,"title":"Group 2","data":{"name":"lD2"},"transform":[{"fold":["SL","2iL"],"as":["cond","val"]}],"mark":{"type":"line","strokeWidth":1},
     "encoding":{"x":{"field":"x","type":"quantitative","scale":{"domain":[-2,2],"nice":false},"axis":{"values":[-2,0,2],"labelExpr":"datum.value < 0 ? '−2 kb' : datum.value > 0 ? '+2 kb' : 'TSS'","labelAngle":-45,"title":null}},
      "y":{"field":"val","type":"quantitative","scale":{"domain":[0,1],"nice":false},"axis":{"values":[0,0.2,0.4,0.6,0.8,1],"format":".1f","title":"RPM","minExtent":16,"maxExtent":16}},
      "color":{"field":"cond","type":"nominal","scale":{"domain":["SL","2iL"],"range":["#3b5bff","#ff4526"]},"legend":{"title":null}}},
     "view":{"stroke":"#555"}},
    {"width":118,"height":84,"title":" ","layer":[
     {"data":{"name":"bD"},"mark":{"type":"rule","color":"#888","strokeWidth":1},"encoding":{"x":{"field":"cat","type":"nominal","scale":{"domain":["SL1","2iL1","SL2","2iL2"],"paddingInner":0,"paddingOuter":0.185,"align":0.6},"axis":{"labelAngle":0,"labelExpr":"datum.value == 'SL1' || datum.value == 'SL2' ? 'SL' : '2iL'","title":"Group 1\u00a0\u00a0\u00a0\u00a0\u00a0\u00a0\u00a0\u00a0\u00a0\u00a0\u00a0\u00a0\u00a0\u00a0\u00a0\u00a0Group 2","labelFontSize":7,"titlePadding":2}},"y":{"field":"min","type":"quantitative","scale":{"domain":[-0.65,9.3],"nice":false,"zero":false},"axis":{"values":[0,3,6,9],"title":"Log₂ (RPKM)","minExtent":8,"maxExtent":8}},"y2":{"field":"max"}}},
     {"data":{"name":"bD"},"mark":{"type":"bar","width":{"band":0.68},"stroke":"#555","strokeWidth":0.8},"encoding":{"x":{"field":"cat","type":"nominal"},"y":{"field":"q1","type":"quantitative"},"y2":{"field":"q3"},"fill":{"field":"cond","type":"nominal","scale":{"domain":["SL","2iL"],"range":["#1030ff","#ff2a08"]},"legend":null}}},
     {"data":{"name":"bD"},"mark":{"type":"tick","size":18,"thickness":1.2,"color":"#111","orient":"horizontal"},"encoding":{"x":{"field":"cat","type":"nominal"},"y":{"field":"med","type":"quantitative"}}},
     {"data":{"name":"brD"},"mark":{"type":"rule","color":"#555","strokeWidth":0.8},"encoding":{"x":{"field":"a","type":"nominal"},"x2":{"field":"b"},"y":{"field":"y","type":"quantitative"}}},
     {"data":{"name":"brD"},"transform":[{"fold":["a","b"],"as":["end","c"]}],"mark":{"type":"rule","color":"#555","strokeWidth":0.8},"encoding":{"x":{"field":"c","type":"nominal"},"y":{"field":"y","type":"quantitative"},"y2":{"field":"lo"}}},
     {"data":{"name":"pD"},"transform":[{"filter":"datum.k == 'pair'"}],"mark":{"type":"text","fontSize":6},"encoding":{"x":{"field":"at","type":"nominal","bandPosition":1},"y":{"field":"ty","type":"quantitative"},"text":{"field":"label"}}},
     {"data":{"name":"pD"},"transform":[{"filter":"datum.k == 'mid'"}],"mark":{"type":"text","fontSize":6},"encoding":{"x":{"field":"at","type":"nominal","bandPosition":0.5},"y":{"field":"ty","type":"quantitative"},"text":{"field":"label"}}}
    ]}
   ], "spacing": 2, "resolve": {"scale": {"color": "independent", "fill": "independent"}, "legend": {"color": "independent"}}}
  ], "spacing": 3, "resolve": {"scale": {"color": "independent", "fill": "independent"}, "legend": {"color": "independent"}}}
 ], "spacing": 23, "resolve": {"scale": {"color": "independent", "fill": "independent"}, "legend": {"color": "independent"}}},

 {"hconcat": [
  {"vconcat": [
   {"width": 222, "height": 30, "data": {"values": [{"letter":"E","lx":-0.104,"ly":0.82,"title":"DNA methylation at β-catenin bound sites","tx":0.489,"ty":0.333,"r1":0.0495,"r2":0.928,"ry":0.033}]},
    "layer": [
     {"mark": {"type":"text","fontSize":12,"fontWeight":"bold","align":"left","baseline":"middle","color":"#000"}, "encoding": {"x":{"field":"lx","type":"quantitative","scale":{"domain":[0,1]},"axis":null},"y":{"field":"ly","type":"quantitative","scale":{"domain":[0,1]},"axis":null},"text":{"field":"letter"}}},
     {"mark": {"type":"text","fontSize":10.5,"align":"center","baseline":"middle","color":"#111"}, "encoding": {"x":{"field":"tx","type":"quantitative"},"y":{"field":"ty","type":"quantitative"},"text":{"field":"title"}}},
     {"mark": {"type":"rule","color":"#222","strokeWidth":1}, "encoding": {"x":{"field":"r1","type":"quantitative"},"x2":{"field":"r2"},"y":{"field":"ry","type":"quantitative"}}}
    ]},
   {"hconcat": [
    {"width":112,"height":84,"title":" ","data":{"name":"lE"},"transform":[{"fold":["SL","2iL"],"as":["cond","val"]}],"mark":{"type":"line","strokeWidth":1},
     "encoding":{"x":{"field":"x","type":"quantitative","scale":{"domain":[-2,2],"nice":false},"axis":{"values":[-2,0,2],"labelExpr":"datum.value < 0 ? '−2 kb' : datum.value > 0 ? '+2 kb' : ['β-Catenin','bound sites']","labelAngle":-45,"title":null}},
      "y":{"field":"val","type":"quantitative","scale":{"domain":[0,100],"nice":false},"axis":{"values":[0,20,40,60,80,100],"title":"% of DNA methylation","minExtent":16,"maxExtent":16}},
      "color":{"field":"cond","type":"nominal","scale":{"domain":["SL","2iL"],"range":["#3b5bff","#ff4526"]},"legend":{"title":null}}},
     "view":{"stroke":"#555"}},
    {"width":78,"height":84,"title":" ","layer":[
     {"data":{"name":"bE"},"mark":{"type":"rule","color":"#888","strokeWidth":1},"encoding":{"x":{"field":"cat","type":"nominal","scale":{"domain":["SL","2iL"],"paddingInner":0,"paddingOuter":0},"axis":{"labelAngle":-45,"title":null,"labelFontSize":7}},"y":{"field":"min","type":"quantitative","scale":{"domain":[-5,102.5],"nice":false,"zero":false},"axis":{"values":[0,25,50,75,100],"title":null,"minExtent":26,"maxExtent":26}},"y2":{"field":"max"}}},
     {"data":{"name":"bE"},"mark":{"type":"bar","width":{"band":0.74},"stroke":"#555","strokeWidth":0.8},"encoding":{"x":{"field":"cat","type":"nominal"},"y":{"field":"q1","type":"quantitative"},"y2":{"field":"q3"},"fill":{"field":"cond","type":"nominal","scale":{"domain":["SL","2iL"],"range":["#1030ff","#ff2a08"]},"legend":null}}},
     {"data":{"name":"bE"},"mark":{"type":"tick","size":28,"thickness":1.2,"color":"#111","orient":"horizontal"},"encoding":{"x":{"field":"cat","type":"nominal"},"y":{"field":"med","type":"quantitative"}}},
     {"data":{"values":[{"label":"P < 2.2 × 10⁻¹⁶","at":"2iL","ty":101}]},"mark":{"type":"text","fontSize":6},"encoding":{"x":{"field":"at","type":"nominal","bandPosition":0.33},"y":{"field":"ty","type":"quantitative"},"text":{"field":"label"}}}
    ]}
   ], "spacing": 2, "resolve": {"scale": {"color": "independent", "fill": "independent"}, "legend": {"color": "independent"}}}
  ], "spacing": 3, "resolve": {"scale": {"color": "independent", "fill": "independent"}, "legend": {"color": "independent"}}},
  {"vconcat": [
   {"width": 400, "height": 30, "data": {"values": [{"letter":"F","lx":-0.0575,"ly":0.82,"title":"DNA methylation at TSS of group 1 and 2 genes","tx":0.499,"ty":0.333,"r1":0.2175,"r2":0.785,"ry":0.033}]},
    "layer": [
     {"mark": {"type":"text","fontSize":12,"fontWeight":"bold","align":"left","baseline":"middle","color":"#000"}, "encoding": {"x":{"field":"lx","type":"quantitative","scale":{"domain":[0,1]},"axis":null},"y":{"field":"ly","type":"quantitative","scale":{"domain":[0,1]},"axis":null},"text":{"field":"letter"}}},
     {"mark": {"type":"text","fontSize":10.5,"align":"center","baseline":"middle","color":"#111"}, "encoding": {"x":{"field":"tx","type":"quantitative"},"y":{"field":"ty","type":"quantitative"},"text":{"field":"title"}}},
     {"mark": {"type":"rule","color":"#222","strokeWidth":1}, "encoding": {"x":{"field":"r1","type":"quantitative"},"x2":{"field":"r2"},"y":{"field":"ry","type":"quantitative"}}}
    ]},
   {"hconcat": [
    {"width":114,"height":84,"title":"Group 1","data":{"name":"lF1"},"transform":[{"fold":["SL","2iL"],"as":["cond","val"]}],"mark":{"type":"line","strokeWidth":1},
     "encoding":{"x":{"field":"x","type":"quantitative","scale":{"domain":[-2,2],"nice":false},"axis":{"values":[-2,0,2],"labelExpr":"datum.value < 0 ? '−2 kb' : datum.value > 0 ? '+2 kb' : 'TSS'","labelAngle":-45,"title":null}},
      "y":{"field":"val","type":"quantitative","scale":{"domain":[0,100],"nice":false},"axis":{"values":[0,20,40,60,80,100],"title":"% of DNA methylation","minExtent":16,"maxExtent":16}},
      "color":{"field":"cond","type":"nominal","scale":{"domain":["SL","2iL"],"range":["#3b5bff","#ff4526"]},"legend":{"title":null}}},
     "view":{"stroke":"#555"}},
    {"width":113,"height":84,"title":"Group 2","data":{"name":"lF2"},"transform":[{"fold":["SL","2iL"],"as":["cond","val"]}],"mark":{"type":"line","strokeWidth":1},
     "encoding":{"x":{"field":"x","type":"quantitative","scale":{"domain":[-2,2],"nice":false},"axis":{"values":[-2,0,2],"labelExpr":"datum.value < 0 ? '−2 kb' : datum.value > 0 ? '+2 kb' : 'TSS'","labelAngle":-45,"title":null}},
      "y":{"field":"val","type":"quantitative","scale":{"domain":[0,100],"nice":false},"axis":{"values":[0,20,40,60,80,100],"title":null,"minExtent":25,"maxExtent":25}},
      "color":{"field":"cond","type":"nominal","scale":{"domain":["SL","2iL"],"range":["#3b5bff","#ff4526"]},"legend":{"title":null}}},
     "view":{"stroke":"#555"}},
    {"width":118,"height":84,"title":" ","layer":[
     {"data":{"name":"bF"},"mark":{"type":"rule","color":"#888","strokeWidth":1},"encoding":{"x":{"field":"cat","type":"nominal","scale":{"domain":["SL1","2iL1","SL2","2iL2"],"paddingInner":0,"paddingOuter":0.185,"align":0.6},"axis":{"labelAngle":0,"labelExpr":"datum.value == 'SL1' || datum.value == 'SL2' ? 'SL' : '2iL'","title":"Group 1\u00a0\u00a0\u00a0\u00a0\u00a0\u00a0\u00a0\u00a0\u00a0\u00a0\u00a0\u00a0\u00a0\u00a0\u00a0\u00a0Group 2","labelFontSize":7,"titlePadding":2}},"y":{"field":"min","type":"quantitative","scale":{"domain":[-5,102.5],"nice":false,"zero":false},"axis":{"values":[0,25,50,75,100],"title":null,"minExtent":17,"maxExtent":17}},"y2":{"field":"max"}}},
     {"data":{"name":"bF"},"mark":{"type":"bar","width":{"band":0.68},"stroke":"#555","strokeWidth":0.8},"encoding":{"x":{"field":"cat","type":"nominal"},"y":{"field":"q1","type":"quantitative"},"y2":{"field":"q3"},"fill":{"field":"cond","type":"nominal","scale":{"domain":["SL","2iL"],"range":["#1030ff","#ff2a08"]},"legend":null}}},
     {"data":{"name":"bF"},"mark":{"type":"tick","size":18,"thickness":1.2,"color":"#111","orient":"horizontal"},"encoding":{"x":{"field":"cat","type":"nominal"},"y":{"field":"med","type":"quantitative"}}},
     {"data":{"name":"brF"},"mark":{"type":"rule","color":"#555","strokeWidth":0.8},"encoding":{"x":{"field":"a","type":"nominal"},"x2":{"field":"b"},"y":{"field":"y","type":"quantitative"}}},
     {"data":{"name":"brF"},"transform":[{"fold":["a","b"],"as":["end","c"]}],"mark":{"type":"rule","color":"#555","strokeWidth":0.8},"encoding":{"x":{"field":"c","type":"nominal"},"y":{"field":"y","type":"quantitative"},"y2":{"field":"lo"}}},
     {"data":{"name":"pF"},"transform":[{"filter":"datum.k == 'pair'"}],"mark":{"type":"text","fontSize":6},"encoding":{"x":{"field":"at","type":"nominal","bandPosition":1},"y":{"field":"ty","type":"quantitative"},"text":{"field":"label"}}}
    ]}
   ], "spacing": 2, "resolve": {"scale": {"color": "independent", "fill": "independent"}, "legend": {"color": "independent"}}}
  ], "spacing": 3, "resolve": {"scale": {"color": "independent", "fill": "independent"}, "legend": {"color": "independent"}}}
 ], "spacing": 23, "resolve": {"scale": {"color": "independent", "fill": "independent"}, "legend": {"color": "independent"}}}
]
}
